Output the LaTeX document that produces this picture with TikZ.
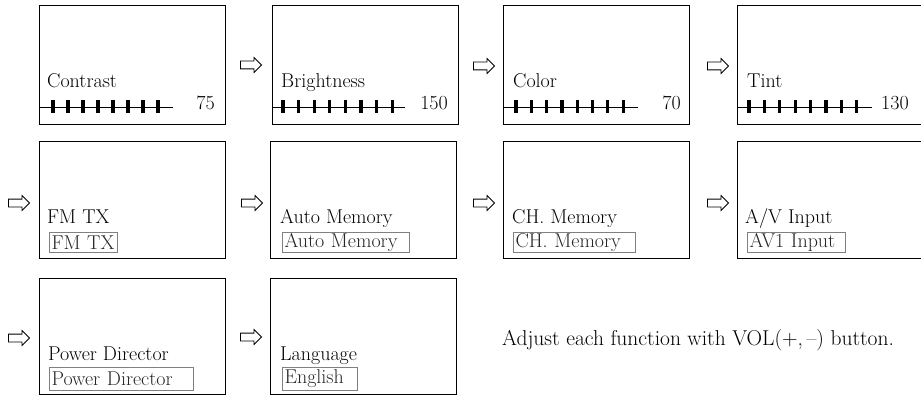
\documentclass[tikz,border=0pt]{standalone}
\usetikzlibrary{positioning, shapes.arrows}

\begin{document}
\begin{tikzpicture}[x=1pt, y=-1pt,
	screen/.style={draw, rectangle, line width=1.1pt, minimum width=186pt, minimum height=119pt, anchor=north west, inner sep=0pt},
	caption/.style={anchor=base west, inner sep=0pt, font=\fontsize{20}{22}\selectfont},
	value/.style={anchor=base east, inner sep=0pt, font=\fontsize{20}{22}\selectfont},
	choice/.style={draw=black!50, line width=1pt, anchor=north west, inner xsep=2pt, inner ysep=0pt, minimum height=20pt, text=black!85, align=left, font=\fontsize{20}{22}\selectfont},
	next/.style={single arrow, draw, line width=0.8pt, fill=white, minimum height=21pt, inner xsep=0pt, inner ysep=3.5pt, single arrow head extend=3.5pt},
	bar/.style={line width=1pt},
	tick/.style={line width=3.2pt}]
		\useasboundingbox (0,0) rectangle (921,396);
		% row 1: sliders
		\node[screen] (contrast) at (39, 5) {};
		\node[caption] (contrast_label) at (47, 88) {Contrast};
		\node[value] (contrast_value) at (215, 110) {75};
		\draw[bar] (39, 107) -- (173, 107);
		\foreach \i in {0,...,7} \draw[tick] ({53+15*\i}, 100) -- ++(0, 13);
		\node[next] (next_1) at (249, 65) {};
		\node[screen] (brightness) at (272, 5) {};
		\node[caption] (brightness_label) at (281, 88) {Brightness};
		\node[value] (brightness_value) at (448, 110) {150};
		\draw[bar] (272, 107) -- (405, 107);
		\foreach \i in {0,...,7} \draw[tick] ({283+15.6*\i}, 100) -- ++(0, 13);
		\node[next] (next_2) at (482, 66) {};
		\node[screen] (color) at (503, 5) {};
		\node[caption] (color_label) at (513, 88) {Color};
		\node[value] (color_value) at (681, 110) {70};
		\draw[bar] (503, 107) -- (638, 107);
		\foreach \i in {0,...,7} \draw[tick] ({516+15.3*\i}, 100) -- ++(0, 13);
		\node[next] (next_3) at (716, 66) {};
		\node[screen, minimum width=183.5pt] (tint) at (737, 5) {};
		\node[caption] (tint_label) at (747, 88) {Tint};
		\node[value, anchor=base west] (tint_value) at (881, 110) {130};
		\draw[bar] (737, 107) -- (872, 107);
		\foreach \i in {0,...,7} \draw[tick] ({749+15.4*\i}, 100) -- ++(0, 13);
		% row 2: menus
		\node[next] (next_4) at (17, 203) {};
		\node[screen, minimum height=117pt] (fmtx) at (39, 141) {};
		\node[caption] (fmtx_label) at (47, 223) {FM TX};
		\node[choice, text width=64pt] (fmtx_choice) at (49, 232) {FM TX};
		\node[next] (next_5) at (250, 203) {};
		\node[screen, minimum height=117pt] (automem) at (270, 141) {};
		\node[caption] (automem_label) at (280, 223) {Auto Memory};
		\node[choice, text width=123pt] (automem_choice) at (282, 232) {Auto Memory};
		\node[next] (next_6) at (482, 203) {};
		\node[screen, minimum height=117pt] (chmem) at (503, 141) {};
		\node[caption] (chmem_label) at (512, 223) {CH. Memory};
		\node[choice, text width=118pt] (chmem_choice) at (513, 232) {CH. Memory};
		\node[next] (next_7) at (716, 203) {};
		\node[screen, minimum width=183.5pt, minimum height=117pt] (avinput) at (737, 141) {};
		\node[caption] (avinput_label) at (745, 223) {A/V Input};
		\node[choice, text width=94pt] (avinput_choice) at (747, 232) {AV1 Input};
		% row 3
		\node[next] (next_8) at (17, 338) {};
		\node[screen, minimum height=116pt] (powerdir) at (39, 278) {};
		\node[caption] (powerdir_label) at (48, 360) {Power Director};
		\node[choice, text width=140pt, minimum height=23pt] (powerdir_choice) at (49, 367) {Power Director};
		\node[next] (next_9) at (249, 337) {};
		\node[screen, minimum height=116pt] (language) at (270, 278) {};
		\node[caption] (language_label) at (280, 360) {Language};
		\node[choice, text width=71pt, minimum height=23pt] (language_choice) at (282, 367) {English};
		\node[caption, font=\fontsize{21.5}{24}\selectfont] (hint) at (502, 345) {Adjust each function with VOL(+,\,--) button.};
	\end{tikzpicture}
\end{document}
